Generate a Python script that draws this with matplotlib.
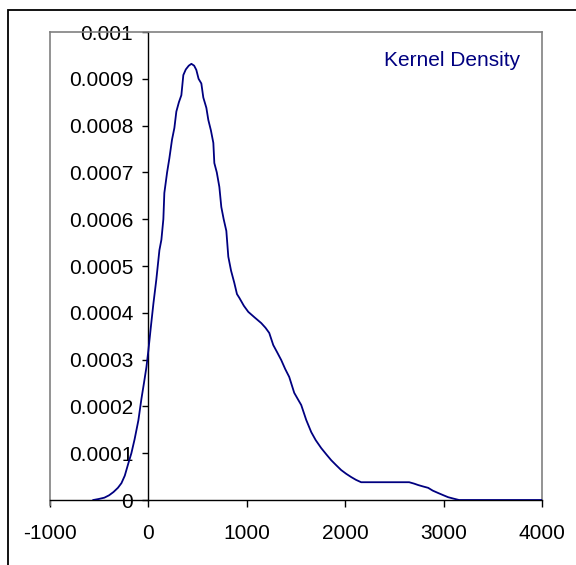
import matplotlib
matplotlib.use("Agg")
import matplotlib.pyplot as plt
from matplotlib.patches import Rectangle

plt.rcParams["font.family"] = ["Liberation Sans", "DejaVu Sans"]

# kernel density estimate
kd_x = [-560, -508, -447, -400, -355, -310, -274, -240, -203, -173, -140, -102,
        -71, -45, -20, 0, 25, 51, 80, 112, 132, 152, 162, 190, 213, 240, 264,
        284, 310, 335, 355, 380, 410, 437, 465, 487, 510, 538, 558, 589, 609,
        635, 660, 670, 695, 721, 741, 765, 792, 812, 840, 873, 900, 924, 970,
        1015, 1080, 1147, 1190, 1228, 1269, 1310, 1350, 1390, 1431, 1482, 1520,
        1553, 1604, 1655, 1700, 1756, 1810, 1858, 1910, 1959, 2010, 2061, 2110,
        2162, 2650, 2700, 2741, 2790, 2843, 2890, 2944, 3000, 3046, 3100, 3157,
        4000]
kd_y = [0, 0.000002, 0.000005, 0.00001, 0.000017, 0.000026, 0.000036, 0.000052,
        0.000079, 0.0001, 0.00013, 0.00017, 0.000216, 0.00025, 0.000284, 0.00032,
        0.00037, 0.00042, 0.00047, 0.000534, 0.000556, 0.0006, 0.000656, 0.0007,
        0.00073, 0.00077, 0.000795, 0.00083, 0.00085, 0.000865, 0.000908, 0.00092,
        0.000928, 0.000932, 0.000928, 0.000919, 0.0009, 0.00089, 0.00086,
        0.000838, 0.000812, 0.00079, 0.000763, 0.00072, 0.0007, 0.000669,
        0.000626, 0.0006, 0.000575, 0.00052, 0.00049, 0.000464, 0.00044,
        0.000432, 0.000415, 0.000402, 0.00039, 0.000378, 0.000368, 0.000357,
        0.000331, 0.000315, 0.000299, 0.00028, 0.000263, 0.000229, 0.000215,
        0.000203, 0.000171, 0.000145, 0.000128, 0.000111, 0.000097, 0.000085,
        0.000074, 0.000064, 0.000056, 0.000049, 0.000043, 0.000038, 0.000038,
        0.000035, 0.000032, 0.000029, 0.000026, 0.00002, 0.000015, 0.00001,
        0.000006, 0.000003, 0, 0]

x_ticks = [-1000, 0, 1000, 2000, 3000, 4000]
y_ticks = [0, 0.0001, 0.0002, 0.0003, 0.0004, 0.0005, 0.0006, 0.0007, 0.0008,
           0.0009, 0.001]
y_labels = ["0", "0.0001", "0.0002", "0.0003", "0.0004", "0.0005", "0.0006",
            "0.0007", "0.0008", "0.0009", "0.001"]

W, H = 576, 565
fig = plt.figure(figsize=(W / 100, H / 100), dpi=100)
ax = fig.add_axes([50 / W, 1 - 500 / H, 492 / W, 468 / H])

navy = "#000080"
grey = "#808080"
fs = 15

ax.plot(kd_x, kd_y, color=navy, lw=1.3, zorder=3)
ax.set_xlim(-1000, 4000)
ax.set_ylim(0, 0.001)

# Excel-like frame: grey box, axes crossing at (0, 0)
for s in ("top", "right"):
    ax.spines[s].set_color(grey)
    ax.spines[s].set_linewidth(1.2)
ax.spines["left"].set_position(("data", 0))
ax.spines["left"].set_color("black")
ax.spines["left"].set_linewidth(1.0)
ax.spines["bottom"].set_color("black")
ax.spines["bottom"].set_linewidth(1.0)
ax.plot([-1000, -1000], [-0.00001, 0.001], color=grey, lw=1.2,
        clip_on=False, zorder=2)

ax.set_xticks(x_ticks)
ax.set_xticklabels([str(v) for v in x_ticks], fontsize=fs)
ax.set_yticks(y_ticks)
ax.set_yticklabels(y_labels, fontsize=fs)
ax.tick_params(axis="y", direction="out", length=4, width=1, pad=7)
ax.tick_params(axis="x", direction="out", length=5, width=1, pad=12)

ax.text(0.955, 0.94, "Kernel Density", transform=ax.transAxes, color=navy,
        fontsize=fs, ha="right", va="center")

# outer chart border (cut off at the right and bottom in the original)
fig.patches.append(Rectangle((8 / W, -0.2), 1.3, 1.2 - 10 / H,
                             transform=fig.transFigure, fill=False,
                             edgecolor="black", lw=1.3))

fig.savefig("out.png", dpi=100)
